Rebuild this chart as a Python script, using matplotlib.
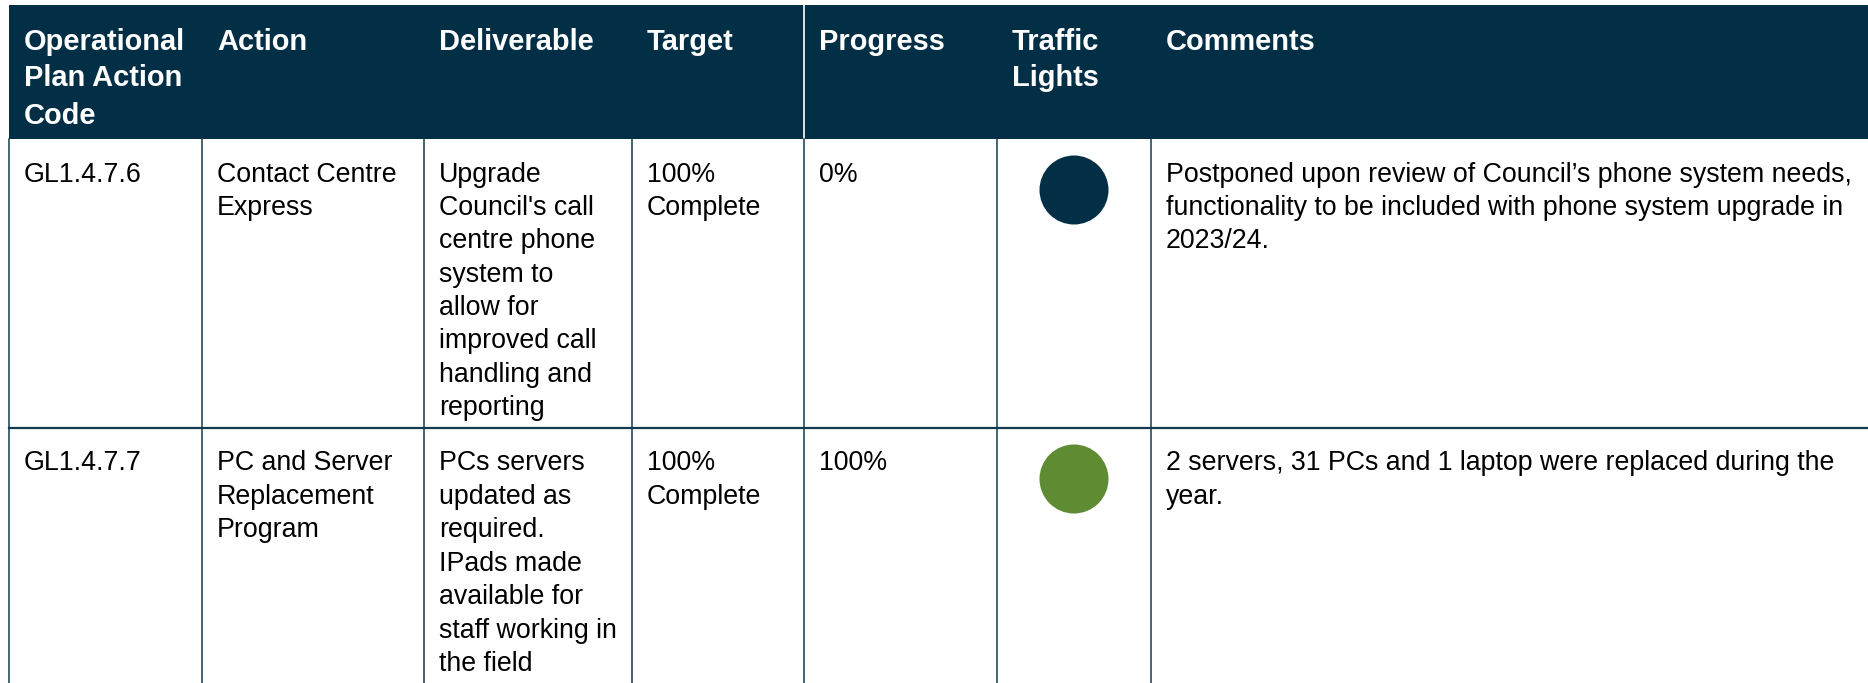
import matplotlib.pyplot as plt
from matplotlib.patches import Rectangle, Circle

# table content
headers = ["Operational\nPlan Action\nCode", "Action", "Deliverable", "Target",
           "Progress", "Traffic\nLights", "Comments"]
codes = ["GL1.4.7.6", "GL1.4.7.7"]
actions = ["Contact Centre\nExpress", "PC and Server\nReplacement\nProgram"]
deliverables = [
    "Upgrade\nCouncil's call\ncentre phone\nsystem to\nallow for\nimproved call\nhandling and\nreporting",
    "PCs servers\nupdated as\nrequired.\nIPads made\navailable for\nstaff working in\nthe field",
]
targets = ["100%\nComplete", "100%\nComplete"]
progress = ["0%", "100%"]
lights = ["postponed", "complete"]
comments = [
    "Postponed upon review of Council\u2019s phone system needs,\n"
    "functionality to be included with phone system upgrade in\n2023/24.",
    "2 servers, 31 PCs and 1 laptop were replaced during the\nyear.",
]

light_colors = {"postponed": "#022f46", "complete": "#5f8b33"}
navy = "#022f46"
line_col = "#123a50"

W, H = 1868, 683
col_x = [9, 202, 424, 632, 804, 997, 1151, W + 10]
head_top, head_bot = 5, 139
row_tops = [139, 428]
row_bot = H + 5
pad = 15
body_fs = 19.25
head_fs = 20.9
body_lead = 33.4
head_lead = 37.0

fig = plt.figure(figsize=(W / 100, H / 100), dpi=100)
ax = fig.add_axes([0, 0, 1, 1])
ax.set_xlim(0, W)
ax.set_ylim(H, 0)
ax.axis("off")
plt.rcParams["font.family"] = ["Liberation Sans", "DejaVu Sans"]


def put_lines(x, y0, text, lead, **kw):
    for i, line in enumerate(text.split("\n")):
        ax.text(x, y0 + i * lead, line, va="baseline", ha="left", **kw)


# header band
ax.add_patch(Rectangle((col_x[0], head_top), W - col_x[0] + 10, head_bot - head_top,
                       facecolor=navy, edgecolor="none"))
ax.plot([col_x[4], col_x[4]], [head_top, head_bot], color="white", lw=1.2)
for j, h in enumerate(headers):
    put_lines(col_x[j] + pad, head_top + 44.5, h, head_lead,
              color="white", fontsize=head_fs, fontweight="bold")

# grid lines of the body
for x in col_x[:-1]:
    ax.plot([x, x], [head_bot, row_bot], color=line_col, lw=1.1)
ax.plot([col_x[0], W + 10], [row_tops[1], row_tops[1]], color=line_col, lw=1.6)

# body rows
for i, top in enumerate(row_tops):
    cells = [codes[i], actions[i], deliverables[i], targets[i], progress[i], None, comments[i]]
    for j, txt in enumerate(cells):
        if txt is None:
            continue
        put_lines(col_x[j] + pad, top + 42.5, txt, body_lead,
                  color="black", fontsize=body_fs)
    cx = (col_x[5] + col_x[6]) / 2
    ax.add_patch(Circle((cx, top + 51), 34.5, facecolor=light_colors[lights[i]],
                        edgecolor="none"))

fig.savefig("out.png", dpi=100)
